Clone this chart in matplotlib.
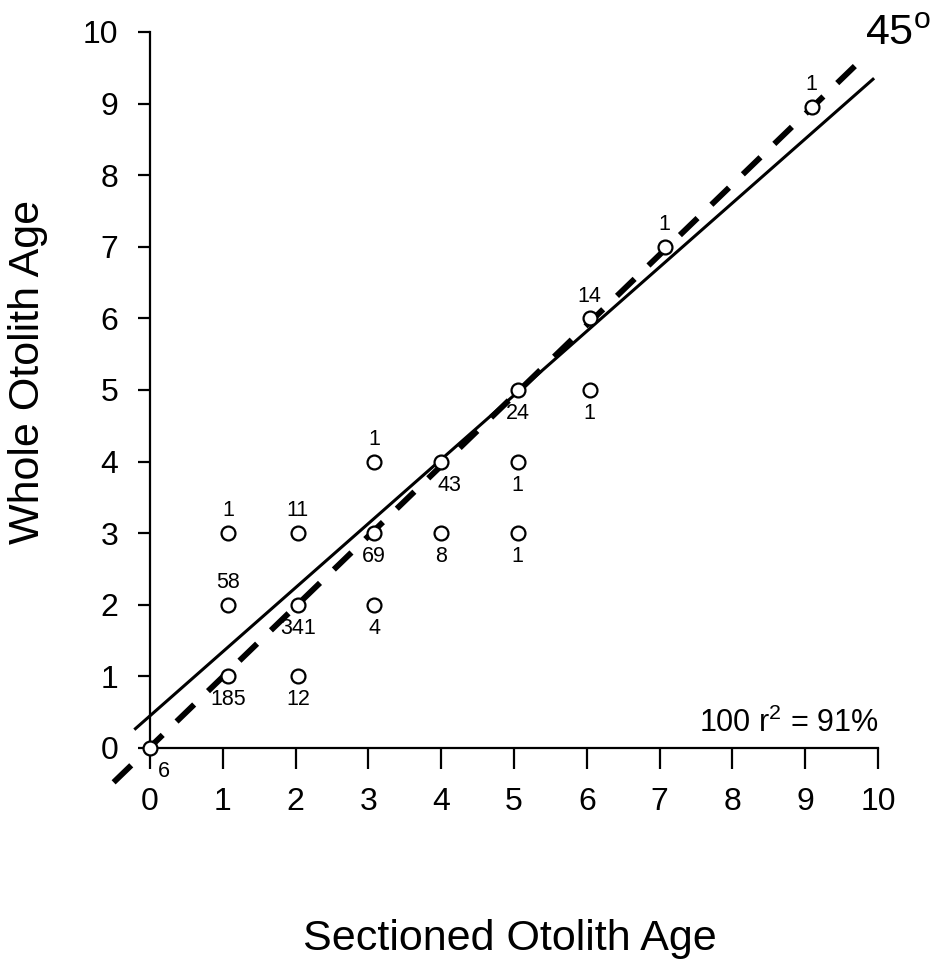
import numpy as np
import matplotlib.pyplot as plt

plt.rcParams['font.family'] = ['Liberation Sans', 'DejaVu Sans']
plt.rcParams['mathtext.fontset'] = 'custom'
plt.rcParams['mathtext.rm'] = 'Liberation Sans'

# points as placed on the figure (sectioned age, whole age)
sect_age = [0.0, 1.07, 1.07, 1.07, 2.03, 2.03, 2.03, 3.08, 3.08, 3.08,
            4.0, 4.0, 5.05, 5.05, 5.05, 6.04, 6.04, 7.07, 9.09]
whole_age = [0.0, 1.0, 2.0, 3.0, 1.0, 2.0, 3.0, 2.0, 3.0, 4.0,
             3.0, 4.0, 3.0, 4.0, 5.0, 5.0, 6.0, 7.0, 8.95]
counts = ['6', '185', '58', '1', '12', '341', '11', '4', '69', '1',
          '8', '43', '1', '1', '24', '1', '14', '1', '1']
# where each count sits: 'a' above, 'b' below, 'r' below right
label_pos = ['r', 'b', 'a', 'a', 'b', 'b', 'a', 'b', 'b', 'a',
             'b', 'r', 'b', 'b', 'b', 'b', 'a', 'a', 'a']

# regression line and 45 degree line end points
fit_x = [-0.2, 9.93]
fit_y = [0.27, 9.34]
ref_x = [-0.5, 9.82]
ref_y = [-0.48, 9.66]

fig = plt.figure(figsize=(9.4, 9.63), dpi=100)
ax = fig.add_axes([0.1596, 0.2233, 0.7745, 0.7435])

ax.plot(fit_x, fit_y, color='black', lw=2.2, clip_on=False, zorder=2)
ax.plot(ref_x, ref_y, color='black', lw=4.2, dashes=(4.2, 3.3),
        clip_on=False, zorder=2)
ax.plot(sect_age, whole_age, 'o', ms=10, mfc='white', mec='black', mew=1.6,
        clip_on=False, zorder=3)

offsets = {'a': (0, 16), 'b': (0, -17), 'r': (6, -17)}
for x, y, c, p in zip(sect_age, whole_age, counts, label_pos):
    dx, dy = offsets[p]
    if c == '6':
        dx = 10
    ax.annotate(c, (x, y), xytext=(dx, dy), textcoords='offset points',
                ha='center', va='center', fontsize=15.5)

ax.set_xlim(0, 10)
ax.set_ylim(0, 10)
ax.set_xticks(range(0, 11))
ax.set_yticks(range(0, 11))
for s in ['top', 'right']:
    ax.spines[s].set_visible(False)
for s in ['left', 'bottom']:
    ax.spines[s].set_linewidth(1.6)
ax.tick_params(axis='x', length=15, width=1.6, pad=13, labelsize=23)
ax.tick_params(axis='y', length=9, width=1.6, pad=14, labelsize=23)

ax.text(10, 0.22, '100 r$^{2}$ = 91%', ha='right', va='baseline', fontsize=22)
fig.text(0.92, 0.953, '45$^{\\mathrm{o}}$', ha='left', va='baseline', fontsize=31)

fig.text(0.542, 0.0135, 'Sectioned Otolith Age', ha='center', va='baseline',
         fontsize=31)
fig.text(0.03, 0.614, 'Whole Otolith Age', ha='center', va='center',
         rotation=90, fontsize=31)

fig.savefig('out.png', dpi=100)
